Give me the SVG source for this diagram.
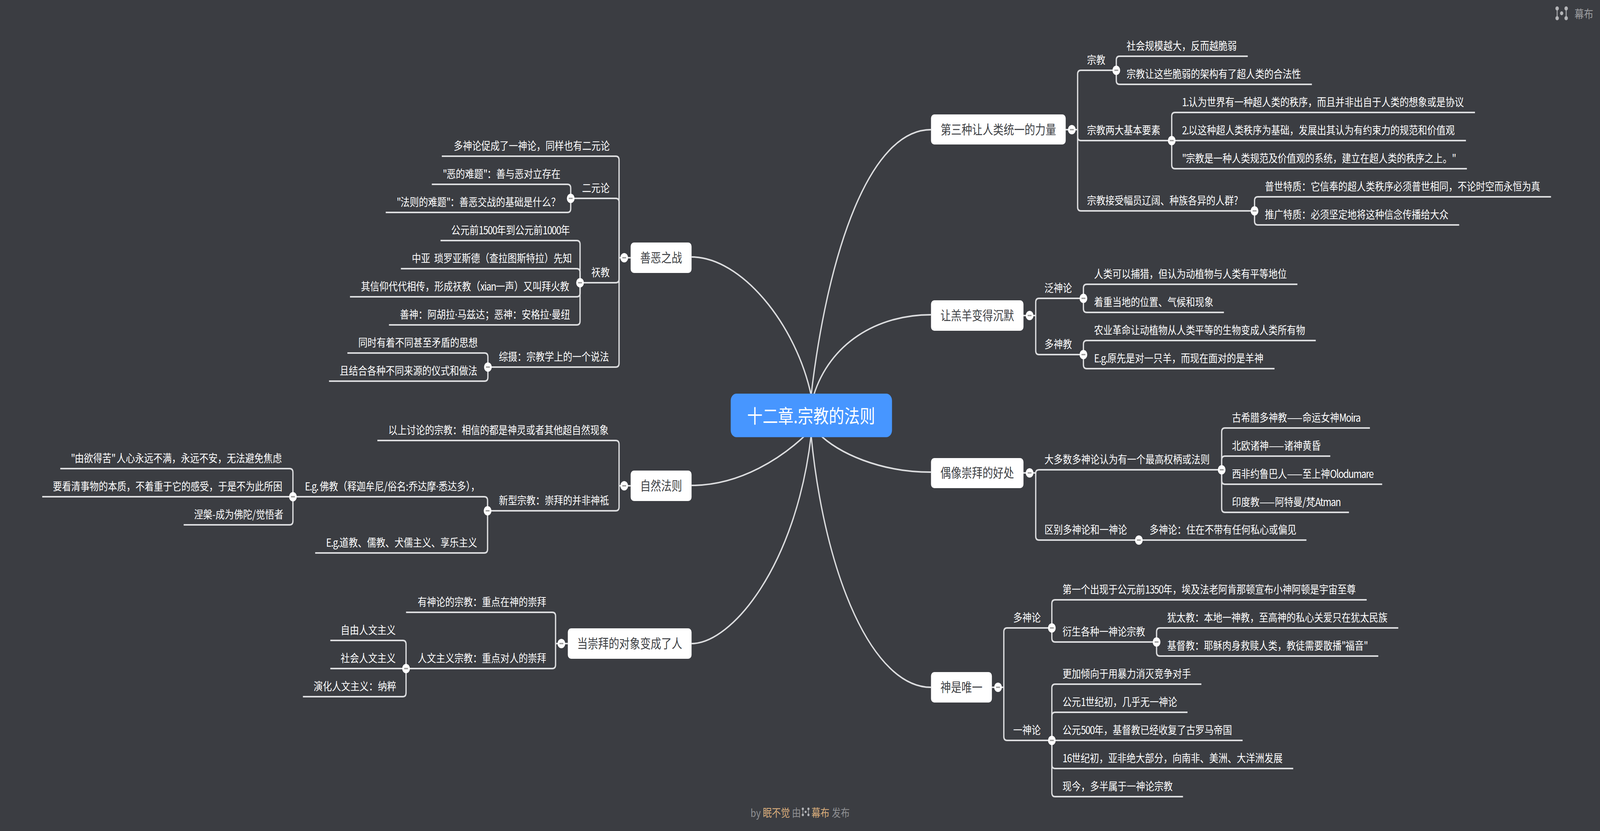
<svg xmlns="http://www.w3.org/2000/svg" width="4965" height="2128" viewBox="0 0 4965 2128" preserveAspectRatio="none">
<style>
svg{width:100vw;height:100vh}
text{font-family:"Noto Sans CJK SC","Noto Sans",sans-serif}
.c{fill:none;stroke:#dcdddf;stroke-width:4}
.b{font-size:32.6px;fill:#3d3f44;text-anchor:middle}
.l{font-size:28.5px;fill:#fff}
.n{letter-spacing:-1.8px}
.d{font-family:"Noto Sans",sans-serif}
.box{fill:#fff}
.f{font-size:28px;fill:#8f9093}
.o{fill:#d9ad7c}
</style>
<defs>
<g id="t"><circle r="12" fill="#fff"/><rect x="-6" y="-1.7" width="12" height="3.4" fill="#999"/></g>
<g id="logo" fill="#b4b5b8"><circle cx="-14" cy="-12.5" r="5.3"/><circle cx="14" cy="-12.5" r="5.3"/><circle cx="-14" cy="12.5" r="5.3"/><circle cx="14" cy="12.5" r="5.3"/><circle r="5"/><path d="M-14 -12.5V12.5M14 -12.5V12.5" stroke="#b4b5b8" stroke-width="2.6"/></g>
</defs>
<rect width="4965" height="2128" fill="#3b3d42"/>
<g id="connectors">
<path class="c" d="M2889 332C2700 332 2570 640 2517 1012"/>
<path class="c" d="M2889 806C2720 806 2575 880 2525 1012"/>
<path class="c" d="M2889 1209C2730 1209 2600 1160 2540 1110"/>
<path class="c" d="M2889 1760C2710 1760 2560 1480 2517 1115"/>
<path class="c" d="M2146 658C2300 658 2470 830 2517 1012"/>
<path class="c" d="M2146 1243C2300 1243 2430 1170 2505 1110"/>
<path class="c" d="M2146 1648C2270 1648 2470 1450 2517 1115"/>

<path class="c" d="M3307 332H3344"/>
<path class="c" d="M3344 332V190Q3344 180 3354 180H3464"/>
<path class="c" d="M3344 332V350Q3344 360 3354 360H3636"/>
<path class="c" d="M3344 332V530Q3344 540 3354 540H3893"/>
<path class="c" d="M3464 180V154Q3464 144 3474 144H3872"/>
<path class="c" d="M3464 180V206Q3464 216 3474 216H4071"/>
<path class="c" d="M3636 360V298Q3636 288 3646 288H4577"/>
<path class="c" d="M3636 360H4549"/>
<path class="c" d="M3636 360V422Q3636 432 3646 432H4552"/>
<path class="c" d="M3893 540V514Q3893 504 3903 504H4813"/>
<path class="c" d="M3893 540V566Q3893 576 3903 576H4528"/>

<path class="c" d="M3176 808H3214"/>
<path class="c" d="M3214 808V774Q3214 764 3224 764H3362"/>
<path class="c" d="M3214 808V898Q3214 908 3224 908H3362"/>
<path class="c" d="M3362 764V738Q3362 728 3372 728H4026"/>
<path class="c" d="M3362 764V790Q3362 800 3372 800H3798"/>
<path class="c" d="M3362 908V882Q3362 872 3372 872H4083"/>
<path class="c" d="M3362 908V934Q3362 944 3372 944H3955"/>

<path class="c" d="M3176 1211H3214"/>
<path class="c" d="M3214 1211Q3214 1203 3224 1203H3791"/>
<path class="c" d="M3214 1211V1373Q3214 1383 3224 1383H4054"/>
<path class="c" d="M3791 1203V1106Q3791 1096 3801 1096H4251"/>
<path class="c" d="M3791 1203V1178Q3791 1168 3801 1168H4128"/>
<path class="c" d="M3791 1203V1230Q3791 1240 3801 1240H4289"/>
<path class="c" d="M3791 1203V1302Q3791 1312 3801 1312H4186"/>

<path class="c" d="M3078 1760H3115"/>
<path class="c" d="M3115 1760V1618Q3115 1608 3125 1608H3264"/>
<path class="c" d="M3115 1760V1886Q3115 1896 3125 1896H3264"/>
<path class="c" d="M3264 1608V1546Q3264 1536 3274 1536H4241"/>
<path class="c" d="M3264 1608V1634Q3264 1644 3274 1644H3589"/>
<path class="c" d="M3589 1644V1618Q3589 1608 3599 1608H4339"/>
<path class="c" d="M3589 1644V1670Q3589 1680 3599 1680H4277"/>
<path class="c" d="M3264 1896V1762Q3264 1752 3274 1752H3728"/>
<path class="c" d="M3264 1896V1834Q3264 1824 3274 1824H3685"/>
<path class="c" d="M3264 1896H3856"/>
<path class="c" d="M3264 1896V1958Q3264 1968 3274 1968H4013"/>
<path class="c" d="M3264 1896V2030Q3264 2040 3274 2040H3671"/>

<path class="c" d="M1957 660H1921"/>
<path class="c" d="M1921 660V410Q1921 400 1911 400H1371"/>
<path class="c" d="M1921 660V518Q1921 508 1911 508H1771"/>
<path class="c" d="M1921 660V714Q1921 724 1911 724H1800"/>
<path class="c" d="M1921 660V930Q1921 940 1911 940H1514"/>
<path class="c" d="M1771 508V482Q1771 472 1761 472H1340"/>
<path class="c" d="M1771 508V534Q1771 544 1761 544H1197"/>
<path class="c" d="M1800 724V626Q1800 616 1790 616H1367"/>
<path class="c" d="M1800 724V698Q1800 688 1790 688H1244"/>
<path class="c" d="M1800 724V750Q1800 760 1790 760H1086"/>
<path class="c" d="M1800 724V822Q1800 832 1790 832H1207"/>
<path class="c" d="M1514 940V914Q1514 904 1504 904H1078"/>
<path class="c" d="M1514 940V966Q1514 976 1504 976H1021"/>

<path class="c" d="M1957 1244H1921"/>
<path class="c" d="M1921 1244V1138Q1921 1128 1911 1128H1171"/>
<path class="c" d="M1921 1244V1298Q1921 1308 1911 1308H1513"/>
<path class="c" d="M1513 1308V1282Q1513 1272 1503 1272H909"/>
<path class="c" d="M1513 1308V1406Q1513 1416 1503 1416H978"/>
<path class="c" d="M909 1272V1210Q909 1200 899 1200H187"/>
<path class="c" d="M909 1272H131"/>
<path class="c" d="M909 1272V1334Q909 1344 899 1344H570"/>

<path class="c" d="M1762 1648H1724"/>
<path class="c" d="M1724 1648V1578Q1724 1568 1714 1568H1260"/>
<path class="c" d="M1724 1648V1702Q1724 1712 1714 1712H1260"/>
<path class="c" d="M1260 1712V1650Q1260 1640 1250 1640H1025"/>
<path class="c" d="M1260 1712H1025"/>
<path class="c" d="M1260 1712V1774Q1260 1784 1250 1784H940"/>
</g>

<g id="root"><rect x="2267.500" y="1008" width="500.500" height="111.500" rx="18" fill="#4796ff"/><text x="2517" y="1083" font-size="48" fill="#fff" text-anchor="middle">十二章.宗教的法则</text></g>

<g id="n1"><rect class="box" x="2889" y="293" width="418" height="77" rx="10"/><text class="b" x="3098" y="344">第三种让人类统一的力量</text><use href="#t" x="3326" y="332"/></g>
<g id="n1a"><text class="l" x="3373" y="164">宗教</text><use href="#t" x="3464" y="180"/></g>
<g id="n1a1"><text class="l" x="3496" y="128">社会规模越大，反而越脆弱</text></g>
<g id="n1a2"><text class="l" x="3496" y="200">宗教让这些脆弱的架构有了超人类的合法性</text></g>
<g id="n1b"><text class="l" x="3373" y="344">宗教两大基本要素</text><use href="#t" x="3636" y="360"/></g>
<g id="n1b1"><text class="l" x="3668" y="272"><tspan class="n">1.</tspan>认为世界有一种超人类的秩序，而且并非出自于人类的想象或是协议</text></g>
<g id="n1b2"><text class="l" x="3668" y="344"><tspan class="n">2.</tspan>以这种超人类秩序为基础，发展出其认为有约束力的规范和价值观</text></g>
<g id="n1b3"><text class="l" x="3668" y="416"><tspan class="n">"</tspan>宗教是一种人类规范及价值观的系统，建立在超人类的秩序之上。<tspan class="n">"</tspan></text></g>
<g id="n1c"><text class="l" x="3373" y="524">宗教接受幅员辽阔、种族各异的人群?</text><use href="#t" x="3893" y="540"/></g>
<g id="n1c1"><text class="l" x="3925" y="488">普世特质：它信奉的超人类秩序必须普世相同，不论时空而永恒为真</text></g>
<g id="n1c2"><text class="l" x="3925" y="560">推广特质：必须坚定地将这种信念传播给大众</text></g>

<g id="n2"><rect class="box" x="2889" y="769" width="287" height="78" rx="10"/><text class="b" x="3032.500" y="820">让羔羊变得沉默</text><use href="#t" x="3195" y="808"/></g>
<g id="n2a"><text class="l" x="3241" y="748">泛神论</text><use href="#t" x="3362" y="764"/></g>
<g id="n2a1"><text class="l" x="3395" y="712">人类可以捕猎，但认为动植物与人类有平等地位</text></g>
<g id="n2a2"><text class="l" x="3395" y="784">着重当地的位置、气候和现象</text></g>
<g id="n2b"><text class="l" x="3241" y="892">多神教</text><use href="#t" x="3362" y="908"/></g>
<g id="n2b1"><text class="l" x="3395" y="856">农业革命让动植物从人类平等的生物变成人类所有物</text></g>
<g id="n2b2"><text class="l" x="3395" y="928"><tspan class="n">E.g.</tspan>原先是对一只羊，而现在面对的是羊神</text></g>

<g id="n3"><rect class="box" x="2889" y="1173" width="287" height="77" rx="10"/><text class="b" x="3032.500" y="1223">偶像崇拜的好处</text><use href="#t" x="3195" y="1211"/></g>
<g id="n3a"><text class="l" x="3241" y="1187">大多数多神论认为有一个最高权柄或法则</text><use href="#t" x="3791" y="1203"/></g>
<g id="n3a1"><text class="l" x="3823" y="1080">古希腊多神教——命运女神<tspan class="n">Moira</tspan></text></g>
<g id="n3a2"><text class="l" x="3823" y="1152">北欧诸神——诸神黄昏</text></g>
<g id="n3a3"><text class="l" x="3823" y="1224">西非约鲁巴人——至上神<tspan class="n">Olodumare</tspan></text></g>
<g id="n3a4"><text class="l" x="3823" y="1296">印度教——阿特曼/梵<tspan class="n">Atman</tspan></text></g>
<g id="n3b"><text class="l" x="3241" y="1367">区别多神论和一神论</text><use href="#t" x="3534" y="1383"/></g>
<g id="n3b1"><text class="l" x="3567" y="1367">多神论：住在不带有任何私心或偏见</text></g>

<g id="n4"><rect class="box" x="2889" y="1721" width="189" height="78" rx="10"/><text class="b" x="2983.500" y="1772">神是唯一</text><use href="#t" x="3097" y="1760"/></g>
<g id="n4a"><text class="l" x="3144" y="1592">多神论</text><use href="#t" x="3264" y="1608"/></g>
<g id="n4a1"><text class="l" x="3297" y="1520">第一个出现于公元前<tspan class="n">1350</tspan>年，埃及法老阿肯那顿宣布小神阿顿是宇宙至尊</text></g>
<g id="n4a2"><text class="l" x="3297" y="1628">衍生各种一神论宗教</text><use href="#t" x="3589" y="1644"/></g>
<g id="n4a2a"><text class="l" x="3622" y="1592">犹太教：本地一神教，至高神的私心关爱只在犹太民族</text></g>
<g id="n4a2b"><text class="l" x="3622" y="1664">基督教：耶稣肉身救赎人类，教徒需要散播<tspan class="n">"</tspan>福音<tspan class="n">"</tspan></text></g>
<g id="n4b"><text class="l" x="3144" y="1880">一神论</text><use href="#t" x="3264" y="1896"/></g>
<g id="n4b1"><text class="l" x="3297" y="1736">更加倾向于用暴力消灭竞争对手</text></g>
<g id="n4b2"><text class="l" x="3297" y="1808">公元<tspan class="n">1</tspan>世纪初，几乎无一神论</text></g>
<g id="n4b3"><text class="l" x="3297" y="1880">公元<tspan class="n">500</tspan>年，基督教已经收复了古罗马帝国</text></g>
<g id="n4b4"><text class="l" x="3297" y="1952"><tspan class="n">16</tspan>世纪初，亚非绝大部分，向南非、美洲、大洋洲发展</text></g>
<g id="n4b5"><text class="l" x="3297" y="2024">现今，多半属于一神论宗教</text></g>

<g id="n5"><rect class="box" x="1957" y="621" width="189" height="78" rx="10"/><text class="b" x="2051.500" y="672">善恶之战</text><use href="#t" x="1937" y="660"/></g>
<g id="n5a"><text class="l" x="1408" y="384">多神论促成了一神论，同样也有二元论</text></g>
<g id="n5b"><text class="l" x="1806" y="492">二元论</text><use href="#t" x="1771" y="508"/></g>
<g id="n5b1"><text class="l" x="1374" y="456"><tspan class="n">"</tspan>恶的难题<tspan class="n">"</tspan>：善与恶对立存在</text></g>
<g id="n5b2"><text class="l" x="1231" y="528"><tspan class="n">"</tspan>法则的难题<tspan class="n">"</tspan>：善恶交战的基础是什么？</text></g>
<g id="n5c"><text class="l" x="1835" y="708">祆教</text><use href="#t" x="1800" y="724"/></g>
<g id="n5c1"><text class="l" x="1400" y="600">公元前<tspan class="n">1500</tspan>年到公元前<tspan class="n">1000</tspan>年</text></g>
<g id="n5c2"><text class="l" x="1278" y="672">中亚 <tspan dx="6">琐罗亚斯德（查拉图斯特拉）先知</tspan></text></g>
<g id="n5c3"><text class="l" x="1120" y="744">其信仰代代相传，形成祆教（<tspan class="n">xian</tspan>一声）又叫拜火教</text></g>
<g id="n5c4"><text class="l" x="1241" y="816">善神：阿胡拉<tspan class="d">·</tspan>马兹达；恶神：安格拉<tspan class="d">·</tspan>曼纽</text></g>
<g id="n5d"><text class="l" x="1548" y="924">综摄：宗教学上的一个说法</text><use href="#t" x="1514" y="940"/></g>
<g id="n5d1"><text class="l" x="1112" y="888">同时有着不同甚至矛盾的思想</text></g>
<g id="n5d2"><text class="l" x="1054" y="960">且结合各种不同来源的仪式和做法</text></g>

<g id="n6"><rect class="box" x="1957" y="1205" width="189" height="78" rx="10"/><text class="b" x="2051.500" y="1256">自然法则</text><use href="#t" x="1937" y="1244"/></g>
<g id="n6a"><text class="l" x="1205" y="1112">以上讨论的宗教：相信的都是神灵或者其他超自然现象</text></g>
<g id="n6b"><text class="l" x="1548" y="1292">新型宗教：崇拜的并非神祗</text><use href="#t" x="1513" y="1308"/></g>
<g id="n6b1"><text class="l" x="946" y="1256"><tspan class="n">E.g. </tspan>佛教（释迦牟尼/俗名:乔达摩<tspan class="d">·</tspan>悉达多），</text><use href="#t" x="909" y="1272"/></g>
<g id="n6b1a"><text class="l" x="220" y="1184"><tspan class="n">"</tspan>由欲得苦<tspan class="n">" </tspan>人心永远不满，永远不安，无法避免焦虑</text></g>
<g id="n6b1b"><text class="l" x="164" y="1256">要看清事物的本质，不着重于它的感受，于是不为此所困</text></g>
<g id="n6b1c"><text class="l" x="602" y="1328">涅槃-成为佛陀/觉悟者</text></g>
<g id="n6b2"><text class="l" x="1012" y="1400"><tspan class="n">E.g.</tspan>道教、儒教、犬儒主义、享乐主义</text></g>

<g id="n7"><rect class="box" x="1762" y="1609" width="384" height="78" rx="10"/><text class="b" x="1954" y="1660">当崇拜的对象变成了人</text><use href="#t" x="1742" y="1648"/></g>
<g id="n7a"><text class="l" x="1296" y="1552">有神论的宗教：重点在神的崇拜</text></g>
<g id="n7b"><text class="l" x="1296" y="1696">人文主义宗教：重点对人的崇拜</text><use href="#t" x="1260" y="1712"/></g>
<g id="n7b1"><text class="l" x="1057" y="1624">自由人文主义</text></g>
<g id="n7b2"><text class="l" x="1057" y="1696">社会人文主义</text></g>
<g id="n7b3"><text class="l" x="973" y="1768">演化人文主义：纳粹</text></g>

<g id="brand"><use href="#logo" transform="translate(4846 34)"/><text x="4886" y="47" font-size="29" fill="#9c9da0">幕布</text></g>
<g id="footer"><text class="f" x="2329" y="2092">by <tspan class="o">眠不觉</tspan> 由</text><use href="#logo" transform="translate(2500 2079) scale(.62)"/><text class="f o" x="2518" y="2092">幕布</text><text class="f" x="2581" y="2092">发布</text></g>
</svg>
